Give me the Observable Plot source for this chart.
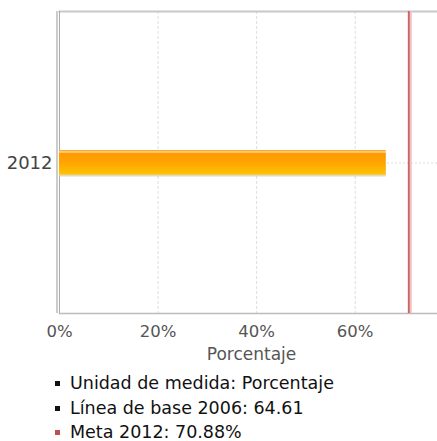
<!DOCTYPE html>
<html>
<head>
<meta charset="utf-8">
<script src="https://cdn.jsdelivr.net/npm/d3@7"></script>
<script src="https://cdn.jsdelivr.net/npm/@observablehq/plot@0.6"></script>
<style>
  html, body { margin: 0; padding: 0; background: #fff; }
  body { width: 437px; height: 441px; overflow: hidden; font-family: "DejaVu Sans", sans-serif; }
  #legend { margin: 0; padding: 9px 0 0 55px; list-style: none; }
  #legend li { font-size: 17.5px; line-height: 24.5px; color: #111; white-space: nowrap; position: relative; padding-left: 15px; }
  #legend li::before { content: ""; position: absolute; left: 0; top: 10px; width: 5px; height: 5px; background: var(--c); }
</style>
</head>
<body>
<div id="chart"></div>
<ul id="legend"></ul>
<script>
const categories = ["2012"];
const values = [66.3];
const goal = 70.88;
const xTicks = [0, 20, 40, 60];
const xLabel = "Porcentaje";
const legendItems = ["Unidad de medida: Porcentaje", "Línea de base 2006: 64.61", "Meta 2012: 70.88%"];
const legendColors = ["#111", "#111", "#c0504d"];

const data = categories.map((c, i) => ({year: c, value: values[i]}));

const plot = Plot.plot({
  width: 437,
  height: 362,
  marginLeft: 59,
  marginRight: 0,
  marginTop: 11,
  marginBottom: 49,
  style: {fontFamily: "DejaVu Sans, sans-serif", background: "#fff", overflow: "visible"},
  x: {domain: [0, 76.7], range: [59, 437]},
  y: {domain: categories, padding: 0.847},
  marks: [
    Plot.gridX(xTicks.slice(1), {stroke: "#ddd", strokeOpacity: 1, strokeDasharray: "3,2"}),
    Plot.gridY(categories, {stroke: "#ddd", strokeOpacity: 1, strokeDasharray: "2,2"}),
    Plot.frame({anchor: "top", stroke: "#c8c8c8", strokeWidth: 2}),
    Plot.frame({anchor: "bottom", stroke: "#bbb", strokeWidth: 1.5}),
    Plot.ruleX([0], {stroke: "#999", strokeWidth: 1, dx: -2.5}),
    Plot.ruleX([0], {stroke: "#aaa", strokeWidth: 1}),
    Plot.barX(data, {x: "value", y: "year", fill: "#ccc", dy: 1.5, fillOpacity: 0.7}),
    Plot.barX(data, {x: "value", y: "year", fill: "url(#barGrad)"}),
    Plot.ruleX([goal], {stroke: "#f2c4c4", strokeWidth: 2, dx: 2}),
    Plot.ruleX([goal], {stroke: "#cc6666", strokeWidth: 2}),
    Plot.axisY({tickSize: 0, tickPadding: 7, fontSize: 18, color: "#444", label: null}),
    Plot.axisX({ticks: xTicks, tickFormat: d => d + "%", tickSize: 0, tickPadding: 12, fontSize: 16.5, color: "#555", label: null}),
    Plot.text([xLabel], {frameAnchor: "bottom", text: d => d, dx: 3, dy: 34, fontSize: 17, fill: "#555", lineAnchor: "top"})
  ]
});

const svg = d3.select(plot);
const defs = svg.insert("defs", ":first-child");
const g = defs.append("linearGradient").attr("id", "barGrad").attr("x1", 0).attr("x2", 0).attr("y1", 0).attr("y2", 1);
[["0%", "#ff9a00"], ["8%", "#ffd9a0"], ["14%", "#ff9900"], ["55%", "#ffa600"], ["92%", "#ffc000"], ["100%", "#ffcc33"]]
  .forEach(([o, c]) => g.append("stop").attr("offset", o).attr("stop-color", c));

document.getElementById("chart").appendChild(plot);

const ul = document.getElementById("legend");
legendItems.forEach((t, i) => {
  const li = document.createElement("li");
  li.textContent = t;
  li.style.setProperty("--c", legendColors[i]);
  ul.appendChild(li);
});
</script>
</body>
</html>
